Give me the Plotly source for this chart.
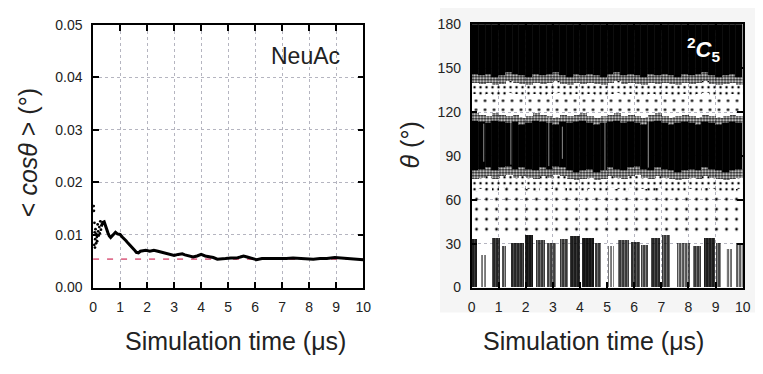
import plotly.graph_objects as go
from plotly.subplots import make_subplots

# ---------------- data: left panel (<cos theta> running average) ----------------
early_t = [0.02, 0.03, 0.04, 0.05, 0.06, 0.07, 0.08, 0.09, 0.11, 0.12, 0.14, 0.15,
           0.17, 0.19, 0.21, 0.23, 0.25, 0.27, 0.29]
early_cos = [0.0155, 0.0146, 0.0081, 0.0123, 0.0105, 0.0076, 0.0092, 0.0111, 0.0084,
             0.0102, 0.0096, 0.0088, 0.0120, 0.0107, 0.0099, 0.0115, 0.0103, 0.0126, 0.0110]

line_t = [0.30, 0.36, 0.41, 0.45, 0.50, 0.55, 0.60, 0.65, 0.72, 0.78, 0.83, 0.90, 1.00,
          1.08, 1.15, 1.22, 1.30, 1.38, 1.45, 1.52, 1.60, 1.68, 1.75, 1.86, 1.95, 2.10,
          2.25, 2.40, 2.55, 2.70, 2.80, 2.90, 3.00, 3.15, 3.30, 3.40, 3.55, 3.70, 3.85,
          4.00, 4.15, 4.30, 4.45, 4.60, 4.75, 4.90, 5.10, 5.30, 5.45, 5.57, 5.70, 5.85,
          6.05, 6.25, 6.45, 6.65, 6.90, 7.15, 7.40, 7.65, 7.90, 8.15, 8.40, 8.65, 8.95,
          9.20, 9.45, 9.70, 9.85, 10.0]
line_cos = [0.0116, 0.0124, 0.0125, 0.0118, 0.0110, 0.0104, 0.0098, 0.0095, 0.0099,
            0.0103, 0.0105, 0.0102, 0.0101, 0.0096, 0.0093, 0.0089, 0.0084, 0.0080,
            0.0076, 0.0072, 0.0067, 0.0066, 0.0069, 0.0070, 0.0071, 0.0069, 0.0071,
            0.0069, 0.0067, 0.0065, 0.0063, 0.0062, 0.0061, 0.0063, 0.0064, 0.0062,
            0.0060, 0.0058, 0.0060, 0.0063, 0.0060, 0.0059, 0.0057, 0.0054, 0.0054,
            0.0055, 0.0056, 0.0056, 0.0058, 0.0060, 0.0058, 0.0056, 0.0053, 0.0055,
            0.0055, 0.0054, 0.0055, 0.0055, 0.0056, 0.0055, 0.0054, 0.0054, 0.0055,
            0.0055, 0.0057, 0.0056, 0.0055, 0.0053, 0.0053, 0.0053]

ref_t = [0.0, 10.0]
ref_cos = [0.0054, 0.0054]

# ---------------- data: right panel (theta vs time, binned densities) ----------------
bin_t = [0.125, 0.375, 0.625, 0.875, 1.125, 1.375, 1.625, 1.875, 2.125, 2.375,
         2.625, 2.875, 3.125, 3.375, 3.625, 3.875, 4.125, 4.375, 4.625, 4.875,
         5.125, 5.375, 5.625, 5.875, 6.125, 6.375, 6.625, 6.875, 7.125, 7.375,
         7.625, 7.875, 8.125, 8.375, 8.625, 8.875, 9.125, 9.375, 9.625, 9.875]
top_band_low = [146, 145, 146, 144, 145, 147, 146, 145, 144, 146, 145, 146, 147, 145,
                144, 146, 145, 146, 145, 144, 146, 147, 145, 146, 145, 144, 146, 145,
                146, 145, 144, 146, 145, 146, 147, 145, 144, 145, 146, 144]
mid_band_high = [114, 113, 112, 114, 113, 112, 113, 111, 112, 114, 113, 112, 111, 113,
                 112, 113, 114, 112, 111, 112, 113, 114, 112, 113, 112, 111, 113, 114,
                 112, 111, 112, 113, 112, 111, 113, 112, 111, 112, 113, 112]
mid_band_low = [80, 81, 82, 80, 82, 83, 81, 82, 81, 80, 82, 81, 83, 82, 80, 79, 80, 81,
                79, 80, 82, 81, 80, 82, 83, 81, 80, 82, 81, 80, 79, 80, 81, 80, 82, 81,
                80, 79, 80, 81]

stripe_t0 = [0.00, 0.30, 0.75, 1.10, 1.45, 1.95, 2.35, 2.75, 3.25, 3.60, 4.05, 4.55,
             5.00, 5.40, 5.85, 6.25, 6.60, 7.00, 7.55, 8.15, 8.55, 9.00, 9.35, 9.75]
stripe_t1 = [0.20, 0.55, 1.05, 1.25, 1.90, 2.25, 2.70, 3.10, 3.55, 4.00, 4.50, 4.75,
             5.25, 5.80, 6.20, 6.50, 6.95, 7.30, 8.05, 8.45, 8.95, 9.20, 9.60, 10.0]
stripe_top = [33, 22, 34, 28, 30, 36, 32, 30, 33, 35, 34, 30, 28, 32, 31, 29, 34, 36,
              30, 28, 34, 30, 26, 30]
stripe_density = [0.85, 0.35, 0.8, 0.6, 0.8, 0.9, 0.7, 0.65, 0.7, 0.85, 0.9, 0.7,
                  0.35, 0.7, 0.75, 0.65, 0.8, 0.7, 0.55, 0.7, 0.85, 0.65, 0.4, 0.5]

streak_t = [0.45, 1.45, 2.85, 3.35, 4.92, 6.52]
streak_lo = [86, 84, 83, 88, 80, 82]
streak_hi = [112, 114, 116, 110, 117, 116]

# ---------------- figure ----------------
W, H = 763, 374
FONT = "Liberation Sans, Arial, Helvetica, sans-serif"
CLEAR = "rgba(0,0,0,0)"

def px(x):
    return x / W

def py(y):
    return 1 - y / H

def dots(shape, size, solidity):
    return dict(color=CLEAR, line=dict(width=0),
                pattern=dict(shape=shape, size=size, solidity=solidity,
                             fgcolor="black", bgcolor=CLEAR, fillmode="replace"))

fig = make_subplots(rows=1, cols=2)

# left panel
fig.add_trace(go.Scatter(x=ref_t, y=ref_cos, mode="lines",
                         line=dict(color="#e0708e", width=1.6, dash="6px,8px"),
                         showlegend=False), row=1, col=1)
fig.add_trace(go.Scatter(x=line_t, y=line_cos, mode="lines",
                         line=dict(color="black", width=3),
                         showlegend=False), row=1, col=1)
fig.add_trace(go.Scatter(x=early_t, y=early_cos, mode="markers",
                         marker=dict(color="black", size=2.8),
                         showlegend=False), row=1, col=1)

n = len(bin_t)
# right panel: solid top band
fig.add_trace(go.Bar(x=bin_t, y=[180 - v for v in top_band_low], base=top_band_low,
                     width=0.25, marker=dict(color="black", line=dict(width=0.6, color="black")),
                     showlegend=False), row=1, col=2)
# dense fringe below top band
fig.add_trace(go.Bar(x=bin_t, y=[6] * n, base=[v - 6 for v in top_band_low],
                     width=0.25, marker=dots(".", 3, 0.5), showlegend=False), row=1, col=2)
# medium zone below the fringe
fig.add_trace(go.Bar(x=bin_t, y=[8] * n, base=[v - 14 for v in top_band_low],
                     width=0.25, marker=dots(".", 6, 0.14), showlegend=False), row=1, col=2)
# sparse zone between bands
fig.add_trace(go.Bar(x=bin_t, y=[a - 14 - (b + 5) for a, b in zip(top_band_low, mid_band_high)],
                     base=[b + 5 for b in mid_band_high], width=0.25,
                     marker=dots(".", 9, 0.07), showlegend=False), row=1, col=2)
# middle band (solid core)
fig.add_trace(go.Bar(x=bin_t, y=[a - b for a, b in zip(mid_band_high, mid_band_low)],
                     base=mid_band_low, width=0.25,
                     marker=dict(color="black", line=dict(width=0.6, color="black")),
                     showlegend=False), row=1, col=2)
# fringes of the middle band
fig.add_trace(go.Bar(x=bin_t, y=[5] * n, base=mid_band_high, width=0.25,
                     marker=dots(".", 3, 0.5), showlegend=False), row=1, col=2)
fig.add_trace(go.Bar(x=bin_t, y=[6] * n, base=[v - 6 for v in mid_band_low], width=0.25,
                     marker=dots(".", 3, 0.5), showlegend=False), row=1, col=2)
fig.add_trace(go.Bar(x=bin_t, y=[8] * n, base=[v - 14 for v in mid_band_low], width=0.25,
                     marker=dots(".", 6, 0.13), showlegend=False), row=1, col=2)
# sparse zone below the middle band
fig.add_trace(go.Bar(x=bin_t, y=[v - 14 - 36 for v in mid_band_low], base=[36] * n,
                     width=0.25, marker=dots(".", 10, 0.06), showlegend=False), row=1, col=2)
# bottom stripes
fig.add_trace(go.Bar(x=[(a + b) / 2 for a, b in zip(stripe_t0, stripe_t1)],
                     y=stripe_top, base=[0] * len(stripe_top),
                     width=[b - a for a, b in zip(stripe_t0, stripe_t1)],
                     marker=dots("|", 3, stripe_density), showlegend=False), row=1, col=2)
# thin light streaks inside the middle band
sx, sy = [], []
for t, lo, hi in zip(streak_t, streak_lo, streak_hi):
    sx += [t, t, None]
    sy += [lo, hi, None]
fig.add_trace(go.Scatter(x=sx, y=sy, mode="lines",
                         line=dict(color="rgba(255,255,255,0.55)", width=1),
                         showlegend=False), row=1, col=2)

axis_common = dict(showline=True, linecolor="black", linewidth=1.5, mirror="allticks",
                   ticks="inside", ticklen=6, tickwidth=1.5, tickcolor="black",
                   showgrid=True, gridcolor="#b5b5c0", griddash="dot", gridwidth=1,
                   zeroline=False, tickfont=dict(family=FONT, size=14, color="#222222"))

fig.update_xaxes(**axis_common)
fig.update_yaxes(**axis_common)

fig.update_xaxes(domain=[px(90.5), px(365)], range=[0, 10], tickvals=list(range(11)),
                 ticklabelstandoff=6, row=1, col=1)
fig.update_yaxes(domain=[py(292), py(17.5)], range=[0, 0.05],
                 tickvals=[0, 0.01, 0.02, 0.03, 0.04, 0.05],
                 tickformat=".2f", ticklabelstandoff=6, row=1, col=1)
fig.update_xaxes(domain=[px(475), px(750.5)], range=[0, 10], tickvals=list(range(11)),
                 ticklabelstandoff=6, row=1, col=2)
fig.update_yaxes(domain=[py(292), py(17)], range=[0, 180],
                 tickvals=[0, 30, 60, 90, 120, 150, 180], ticklabelstandoff=6, row=1, col=2)

title_font = dict(family=FONT, size=25, color="#222222")
annotations = [
    dict(text="Simulation time (μs)", x=px(235), y=py(348), font=title_font),
    dict(text="Simulation time (μs)", x=px(599), y=py(348), font=title_font),
    dict(text="< <i>cosθ</i> > (°)", x=px(24), y=py(151), textangle=-90, font=title_font),
    dict(text="<i>θ</i> (°)", x=px(412), y=py(143), textangle=-90, font=title_font),
    dict(text="NeuAc", x=px(306), y=py(50), font=dict(family=FONT, size=23, color="#222222")),
    dict(text="<b><sup>2</sup><i>C</i><sub>5</sub></b>", x=px(711), y=py(43),
         font=dict(family=FONT, size=22, color="white")),
]
for a in annotations:
    a.update(xref="paper", yref="paper", showarrow=False, xanchor="center", yanchor="middle")

fig.update_layout(
    width=W, height=H,
    margin=dict(l=0, r=0, t=0, b=0),
    paper_bgcolor="white", plot_bgcolor="white",
    barmode="overlay", bargap=0,
    annotations=annotations,
    shapes=[
        dict(type="rect", xref="paper", yref="paper", x0=px(443), x1=1,
             y0=py(318), y1=1, fillcolor="#f5f5f5", line=dict(width=0), layer="below"),
        dict(type="rect", xref="paper", yref="paper", x0=px(475), x1=px(750.5),
             y0=py(292), y1=py(17), fillcolor="white", line=dict(width=0), layer="below"),
    ],
)

fig.write_html("out.html")
